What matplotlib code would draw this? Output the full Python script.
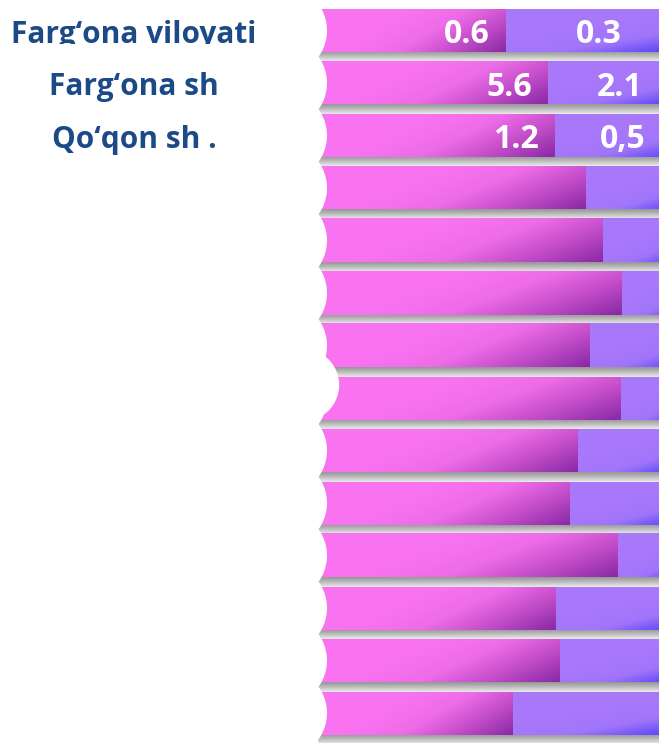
import numpy as np
import matplotlib.pyplot as plt
from matplotlib.colors import LinearSegmentedColormap
from matplotlib.patches import Ellipse
from matplotlib.transforms import Bbox, TransformedBbox

# rows from top to bottom; only the first three carry labels
row_names = ["Farg‘ona viloyati", "Farg‘ona sh", "Qo‘qon sh ."]
first_part = [55.2, 67.7, 69.7, 78.9, 84.0, 89.6, 80.1, 89.3, 76.6, 74.2, 88.4, 70.0, 71.2, 57.3]
bar_total = 110.0
first_labels = ["0.6", "5.6", "1.2"]
second_labels = ["0.3", "2.1", "0,5"]

W, H = 659, 743
PX_UNIT = 3.37      # pixels per x unit
X0_PX = 320         # pixel where bars start
ROW_PX = 52.5
ROW0_PX = 30.5

pink_cmap = LinearSegmentedColormap.from_list("pink", ["#f973f1", "#ee6ce8", "#c24cc8", "#8b2aa6"])
blue_cmap = LinearSegmentedColormap.from_list("blue", ["#a978fa", "#a175fa", "#4a3cf9"])
grey_cmap = LinearSegmentedColormap.from_list("grey", ["#979797", "#bdbdbd", "#e9e9e9"])


def grad(kind, nx=60, ny=20):
    u = np.linspace(0, 1, nx)[None, :]
    v = np.linspace(0, 1, ny)[:, None]
    if kind == "pink":
        t = np.clip((0.8 * u + 0.3 * v - 0.4) / 0.7, 0, 1)
    else:
        t = np.clip((0.55 * u + 0.7 * v - 0.5) / 0.75, 0, 1)
    return t


fig = plt.figure(figsize=(W / 100, H / 100), dpi=100)
ax = fig.add_axes([0, 0, 1, 1])
ax.axis("off")

bar_h = 43 / ROW_PX
sh_h = 9.5 / ROW_PX
vgrad = np.linspace(0, 1, 20)[:, None] * np.ones((1, 4))

for i, p in enumerate(first_part):
    top, bot = i - bar_h / 2, i + bar_h / 2
    # shadow strip under the bar
    ax.imshow(vgrad, cmap=grey_cmap, extent=[-0.6, bar_total, bot + sh_h, bot],
              aspect="auto", interpolation="bilinear", zorder=1)
    ax.imshow(grad("pink"), cmap=pink_cmap, extent=[0, p, bot, top],
              aspect="auto", interpolation="bilinear", zorder=2)
    ax.imshow(grad("blue"), cmap=blue_cmap, extent=[p, bar_total, bot, top],
              aspect="auto", interpolation="bilinear", zorder=2)

# white scalloped left edge
r = 45
for i in range(len(first_part)):
    ax.add_patch(Ellipse(((282 - X0_PX) / PX_UNIT, i), 2 * r / PX_UNIT, 2 * r / ROW_PX,
                         facecolor="white", edgecolor="none", zorder=3))
r2 = 36.2
ax.add_patch(Ellipse(((303 - X0_PX) / PX_UNIT, (385 - ROW0_PX) / ROW_PX), 2 * r2 / PX_UNIT,
                     2 * r2 / ROW_PX, facecolor="white", edgecolor="none", zorder=3))

ax.set_xlim(-X0_PX / PX_UNIT, (W - X0_PX) / PX_UNIT)
ax.set_ylim((H - ROW0_PX) / ROW_PX, -ROW0_PX / ROW_PX)

font = ["Open Sans", "DejaVu Sans"]
name_x = (134 - X0_PX) / PX_UNIT
base = 12.5 / ROW_PX
for i, name in enumerate(row_names):
    t = ax.text(name_x, i + base, name, ha="center", va="baseline", fontsize=21.5,
                fontweight="bold", color="#1c4a87", family=font, zorder=5)
    if i == 0:
        # the original text box cuts the descenders of the first name
        t.set_clip_box(TransformedBbox(Bbox.from_extents(0, (H - 44) / 100, W / 100, H / 100),
                                       fig.dpi_scale_trans))
        t.set_clip_on(True)

for i, (a, b) in enumerate(zip(first_labels, second_labels)):
    p = first_part[i]
    ax.text(p - 16 / PX_UNIT, i + base, a, ha="right", va="baseline", fontsize=23,
            fontweight="bold", color="white", family=font, zorder=5)
    ax.text((p + bar_total) / 2, i + base, b, ha="center", va="baseline", fontsize=23,
            fontweight="bold", color="white", family=font, zorder=5)

fig.savefig("out.png", dpi=100)
